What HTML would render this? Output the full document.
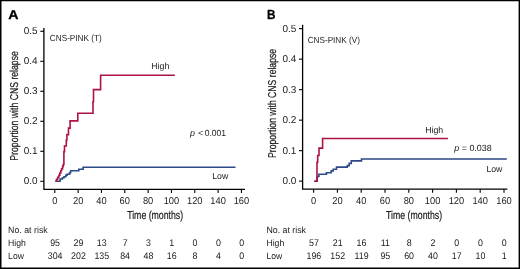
<!DOCTYPE html>
<html><head><meta charset="utf-8"><style>
html,body{margin:0;padding:0;background:#fff;}
body{width:520px;height:269px;overflow:hidden;}
svg{display:block;will-change:transform;text-rendering:geometricPrecision;}
text{font-family:"Liberation Sans",sans-serif;fill:#1a1a1a;}
</style></head><body>
<svg width="520" height="269" viewBox="0 0 520 269">
<rect x="0" y="0" width="520" height="269" fill="#fff"/>
<path d="M0 0 H520 V269 H0 Z M1.5 1.2 V267.6 H518.6 V1.2 Z" fill="#000" fill-rule="evenodd"/>
<text x="0" y="0" font-size="12.9" font-weight="bold" style="fill:#000" stroke="#000" stroke-width="0.3" transform="translate(8.3 19.1) scale(1.1 1)">A</text>
<text x="0" y="0" font-size="13.2" font-weight="bold" style="fill:#000" stroke="#000" stroke-width="0.3" transform="translate(267.1 19.1) scale(0.89 1)">B</text>
<path d="M43.9 28 V189.3 H245" fill="none" stroke="#000" stroke-width="1.3"/>
<line x1="40.3" y1="181.30" x2="43.9" y2="181.30" stroke="#000" stroke-width="1.1"/>
<text x="37.60" y="184.30" font-size="10.0" text-anchor="end">0.0</text>
<line x1="40.3" y1="151.30" x2="43.9" y2="151.30" stroke="#000" stroke-width="1.1"/>
<text x="37.60" y="154.30" font-size="10.0" text-anchor="end">0.1</text>
<line x1="40.3" y1="121.30" x2="43.9" y2="121.30" stroke="#000" stroke-width="1.1"/>
<text x="37.60" y="124.30" font-size="10.0" text-anchor="end">0.2</text>
<line x1="40.3" y1="91.30" x2="43.9" y2="91.30" stroke="#000" stroke-width="1.1"/>
<text x="37.60" y="94.30" font-size="10.0" text-anchor="end">0.3</text>
<line x1="40.3" y1="61.30" x2="43.9" y2="61.30" stroke="#000" stroke-width="1.1"/>
<text x="37.60" y="64.30" font-size="10.0" text-anchor="end">0.4</text>
<line x1="40.3" y1="31.30" x2="43.9" y2="31.30" stroke="#000" stroke-width="1.1"/>
<text x="37.60" y="34.30" font-size="10.0" text-anchor="end">0.5</text>
<line x1="54.80" y1="189.3" x2="54.80" y2="192.9" stroke="#000" stroke-width="1.1"/>
<text transform="translate(54.80 204.20) scale(0.93 1)" font-size="10.0" text-anchor="middle">0</text>
<line x1="78.13" y1="189.3" x2="78.13" y2="192.9" stroke="#000" stroke-width="1.1"/>
<text transform="translate(78.13 204.20) scale(0.93 1)" font-size="10.0" text-anchor="middle">20</text>
<line x1="101.46" y1="189.3" x2="101.46" y2="192.9" stroke="#000" stroke-width="1.1"/>
<text transform="translate(101.46 204.20) scale(0.93 1)" font-size="10.0" text-anchor="middle">40</text>
<line x1="124.79" y1="189.3" x2="124.79" y2="192.9" stroke="#000" stroke-width="1.1"/>
<text transform="translate(124.79 204.20) scale(0.93 1)" font-size="10.0" text-anchor="middle">60</text>
<line x1="148.12" y1="189.3" x2="148.12" y2="192.9" stroke="#000" stroke-width="1.1"/>
<text transform="translate(148.12 204.20) scale(0.93 1)" font-size="10.0" text-anchor="middle">80</text>
<line x1="171.45" y1="189.3" x2="171.45" y2="192.9" stroke="#000" stroke-width="1.1"/>
<text transform="translate(171.45 204.20) scale(0.93 1)" font-size="10.0" text-anchor="middle">100</text>
<line x1="194.78" y1="189.3" x2="194.78" y2="192.9" stroke="#000" stroke-width="1.1"/>
<text transform="translate(194.78 204.20) scale(0.93 1)" font-size="10.0" text-anchor="middle">120</text>
<line x1="218.11" y1="189.3" x2="218.11" y2="192.9" stroke="#000" stroke-width="1.1"/>
<text transform="translate(218.11 204.20) scale(0.93 1)" font-size="10.0" text-anchor="middle">140</text>
<line x1="241.44" y1="189.3" x2="241.44" y2="192.9" stroke="#000" stroke-width="1.1"/>
<text transform="translate(241.44 204.20) scale(0.93 1)" font-size="10.0" text-anchor="middle">160</text>
<path d="M302.6 24.8 V189.2 H507.4" fill="none" stroke="#000" stroke-width="1.3"/>
<line x1="299.0" y1="181.15" x2="302.6" y2="181.15" stroke="#000" stroke-width="1.1"/>
<text x="296.30" y="184.15" font-size="10.0" text-anchor="end">0.0</text>
<line x1="299.0" y1="150.65" x2="302.6" y2="150.65" stroke="#000" stroke-width="1.1"/>
<text x="296.30" y="153.65" font-size="10.0" text-anchor="end">0.1</text>
<line x1="299.0" y1="120.15" x2="302.6" y2="120.15" stroke="#000" stroke-width="1.1"/>
<text x="296.30" y="123.15" font-size="10.0" text-anchor="end">0.2</text>
<line x1="299.0" y1="89.65" x2="302.6" y2="89.65" stroke="#000" stroke-width="1.1"/>
<text x="296.30" y="92.65" font-size="10.0" text-anchor="end">0.3</text>
<line x1="299.0" y1="59.15" x2="302.6" y2="59.15" stroke="#000" stroke-width="1.1"/>
<text x="296.30" y="62.15" font-size="10.0" text-anchor="end">0.4</text>
<line x1="299.0" y1="28.65" x2="302.6" y2="28.65" stroke="#000" stroke-width="1.1"/>
<text x="296.30" y="31.65" font-size="10.0" text-anchor="end">0.5</text>
<line x1="313.60" y1="189.2" x2="313.60" y2="192.79999999999998" stroke="#000" stroke-width="1.1"/>
<text transform="translate(313.60 204.20) scale(0.93 1)" font-size="10.0" text-anchor="middle">0</text>
<line x1="337.40" y1="189.2" x2="337.40" y2="192.79999999999998" stroke="#000" stroke-width="1.1"/>
<text transform="translate(337.40 204.20) scale(0.93 1)" font-size="10.0" text-anchor="middle">20</text>
<line x1="361.20" y1="189.2" x2="361.20" y2="192.79999999999998" stroke="#000" stroke-width="1.1"/>
<text transform="translate(361.20 204.20) scale(0.93 1)" font-size="10.0" text-anchor="middle">40</text>
<line x1="385.00" y1="189.2" x2="385.00" y2="192.79999999999998" stroke="#000" stroke-width="1.1"/>
<text transform="translate(385.00 204.20) scale(0.93 1)" font-size="10.0" text-anchor="middle">60</text>
<line x1="408.80" y1="189.2" x2="408.80" y2="192.79999999999998" stroke="#000" stroke-width="1.1"/>
<text transform="translate(408.80 204.20) scale(0.93 1)" font-size="10.0" text-anchor="middle">80</text>
<line x1="432.60" y1="189.2" x2="432.60" y2="192.79999999999998" stroke="#000" stroke-width="1.1"/>
<text transform="translate(432.60 204.20) scale(0.93 1)" font-size="10.0" text-anchor="middle">100</text>
<line x1="456.40" y1="189.2" x2="456.40" y2="192.79999999999998" stroke="#000" stroke-width="1.1"/>
<text transform="translate(456.40 204.20) scale(0.93 1)" font-size="10.0" text-anchor="middle">120</text>
<line x1="480.20" y1="189.2" x2="480.20" y2="192.79999999999998" stroke="#000" stroke-width="1.1"/>
<text transform="translate(480.20 204.20) scale(0.93 1)" font-size="10.0" text-anchor="middle">140</text>
<line x1="504.00" y1="189.2" x2="504.00" y2="192.79999999999998" stroke="#000" stroke-width="1.1"/>
<text transform="translate(504.00 204.20) scale(0.93 1)" font-size="10.0" text-anchor="middle">160</text>
<path d="M55.50 181.30 L60.10 181.30 L60.10 179.00 L62.40 179.00 L62.40 177.80 L64.00 177.80 L64.00 176.70 L65.90 176.70 L65.90 175.10 L67.10 175.10 L67.10 174.30 L69.50 174.30 L69.50 172.80 L70.60 172.80 L70.60 170.80 L78.80 170.80 L78.80 169.25 L83.10 169.25 L83.10 167.30 L235.50 167.30" fill="none" stroke="#2b4a87" stroke-width="1.6" stroke-linejoin="miter"/>
<path d="M55.30 181.30 L56.50 181.30 L56.50 179.20 L57.70 179.20 L57.70 177.20 L58.90 177.20 L58.90 175.20 L59.80 175.20 L59.80 173.00 L60.80 173.00 L60.80 170.80 L61.60 170.80 L61.60 168.80 L62.60 168.80 L62.60 166.50 L63.20 166.50 L63.20 164.60 L63.90 164.60 L63.90 151.60 L64.50 151.60 L64.50 146.00 L66.30 146.00 L66.30 140.00 L66.90 140.00 L66.90 134.60 L68.50 134.60 L68.50 128.10 L70.10 128.10 L70.10 120.90 L77.80 120.90 L77.80 113.30 L93.00 113.30 L93.00 101.70 L93.50 101.70 L93.50 89.60 L100.60 89.60 L100.60 75.20 L174.80 75.20" fill="none" stroke="#ae1240" stroke-width="1.6" stroke-linejoin="miter"/>
<path d="M314.20 181.20 L317.20 181.20 L317.20 176.50 L318.90 176.50 L318.90 174.20 L326.40 174.20 L326.40 172.70 L331.20 172.70 L331.20 170.90 L333.20 170.90 L333.20 169.20 L336.50 169.20 L336.50 167.10 L347.30 167.10 L347.30 165.60 L349.20 165.60 L349.20 163.40 L351.30 163.40 L351.30 160.90 L361.50 160.90 L361.50 159.00 L506.80 159.00" fill="none" stroke="#2b4a87" stroke-width="1.6" stroke-linejoin="miter"/>
<path d="M314.20 181.20 L317.00 181.20 L317.00 162.20 L317.70 162.20 L317.70 155.50 L319.00 155.50 L319.00 148.10 L322.60 148.10 L322.60 138.45 L447.90 138.45" fill="none" stroke="#ae1240" stroke-width="1.6" stroke-linejoin="miter"/>
<text x="49.80" y="40.90" font-size="8.9" textLength="52" lengthAdjust="spacingAndGlyphs">CNS-PINK (T)</text>
<text x="307.70" y="43.10" font-size="8.9" textLength="52.2" lengthAdjust="spacingAndGlyphs">CNS-PINK (V)</text>
<text transform="translate(17.6 105.9) rotate(-90)" text-anchor="middle" font-size="11.4" stroke="#1a1a1a" stroke-width="0.2" textLength="109.5" lengthAdjust="spacingAndGlyphs">Proportion with CNS relapse</text>
<text transform="translate(276.3 103.4) rotate(-90)" text-anchor="middle" font-size="11.4" stroke="#1a1a1a" stroke-width="0.2" textLength="109" lengthAdjust="spacingAndGlyphs">Proportion with CNS relapse</text>
<text x="151.30" y="69.30" font-size="8.9" textLength="18" lengthAdjust="spacingAndGlyphs">High</text>
<text x="425.20" y="132.90" font-size="8.9" textLength="18" lengthAdjust="spacingAndGlyphs">High</text>
<text x="212.20" y="178.70" font-size="8.9" textLength="16" lengthAdjust="spacingAndGlyphs">Low</text>
<text x="486.40" y="171.80" font-size="8.9" textLength="16" lengthAdjust="spacingAndGlyphs">Low</text>
<text x="189.90" y="135.80" font-size="8.9" font-style="italic">p</text>
<text x="198.00" y="135.80" font-size="8.9">&lt;</text>
<text x="204.70" y="135.80" font-size="8.9" textLength="21.4" lengthAdjust="spacingAndGlyphs">0.001</text>
<text x="454.20" y="150.60" font-size="8.9" textLength="37.6" lengthAdjust="spacingAndGlyphs"><tspan font-style="italic">p</tspan> = 0.038</text>
<text x="155.15" y="219.40" font-size="11.5" text-anchor="middle" textLength="56" lengthAdjust="spacingAndGlyphs" stroke="#1a1a1a" stroke-width="0.2">Time (months)</text>
<text x="414.10" y="219.40" font-size="11.5" text-anchor="middle" textLength="56" lengthAdjust="spacingAndGlyphs" stroke="#1a1a1a" stroke-width="0.2">Time (months)</text>
<text x="8.10" y="233.00" font-size="9.1" textLength="39.6" lengthAdjust="spacingAndGlyphs">No. at risk</text>
<text x="8.10" y="245.90" font-size="9.1" textLength="17.8" lengthAdjust="spacingAndGlyphs">High</text>
<text x="8.10" y="258.50" font-size="9.1" textLength="15.8" lengthAdjust="spacingAndGlyphs">Low</text>
<text transform="translate(55.10 246.10) scale(0.92 1)" font-size="9.6" text-anchor="middle">95</text>
<text transform="translate(55.10 259.10) scale(0.92 1)" font-size="9.6" text-anchor="middle">304</text>
<text transform="translate(78.43 246.10) scale(0.92 1)" font-size="9.6" text-anchor="middle">29</text>
<text transform="translate(78.43 259.10) scale(0.92 1)" font-size="9.6" text-anchor="middle">202</text>
<text transform="translate(101.76 246.10) scale(0.92 1)" font-size="9.6" text-anchor="middle">13</text>
<text transform="translate(101.76 259.10) scale(0.92 1)" font-size="9.6" text-anchor="middle">135</text>
<text transform="translate(125.09 246.10) scale(0.92 1)" font-size="9.6" text-anchor="middle">7</text>
<text transform="translate(125.09 259.10) scale(0.92 1)" font-size="9.6" text-anchor="middle">84</text>
<text transform="translate(148.42 246.10) scale(0.92 1)" font-size="9.6" text-anchor="middle">3</text>
<text transform="translate(148.42 259.10) scale(0.92 1)" font-size="9.6" text-anchor="middle">48</text>
<text transform="translate(171.75 246.10) scale(0.92 1)" font-size="9.6" text-anchor="middle">1</text>
<text transform="translate(171.75 259.10) scale(0.92 1)" font-size="9.6" text-anchor="middle">16</text>
<text transform="translate(195.08 246.10) scale(0.92 1)" font-size="9.6" text-anchor="middle">0</text>
<text transform="translate(195.08 259.10) scale(0.92 1)" font-size="9.6" text-anchor="middle">8</text>
<text transform="translate(218.41 246.10) scale(0.92 1)" font-size="9.6" text-anchor="middle">0</text>
<text transform="translate(218.41 259.10) scale(0.92 1)" font-size="9.6" text-anchor="middle">4</text>
<text transform="translate(241.74 246.10) scale(0.92 1)" font-size="9.6" text-anchor="middle">0</text>
<text transform="translate(241.74 259.10) scale(0.92 1)" font-size="9.6" text-anchor="middle">0</text>
<text x="266.40" y="233.00" font-size="9.1" textLength="39.6" lengthAdjust="spacingAndGlyphs">No. at risk</text>
<text x="266.40" y="245.90" font-size="9.1" textLength="17.8" lengthAdjust="spacingAndGlyphs">High</text>
<text x="266.40" y="258.50" font-size="9.1" textLength="15.8" lengthAdjust="spacingAndGlyphs">Low</text>
<text transform="translate(313.90 246.10) scale(0.92 1)" font-size="9.6" text-anchor="middle">57</text>
<text transform="translate(313.90 259.10) scale(0.92 1)" font-size="9.6" text-anchor="middle">196</text>
<text transform="translate(337.70 246.10) scale(0.92 1)" font-size="9.6" text-anchor="middle">21</text>
<text transform="translate(337.70 259.10) scale(0.92 1)" font-size="9.6" text-anchor="middle">152</text>
<text transform="translate(361.50 246.10) scale(0.92 1)" font-size="9.6" text-anchor="middle">16</text>
<text transform="translate(361.50 259.10) scale(0.92 1)" font-size="9.6" text-anchor="middle">119</text>
<text transform="translate(385.30 246.10) scale(0.92 1)" font-size="9.6" text-anchor="middle">11</text>
<text transform="translate(385.30 259.10) scale(0.92 1)" font-size="9.6" text-anchor="middle">95</text>
<text transform="translate(409.10 246.10) scale(0.92 1)" font-size="9.6" text-anchor="middle">8</text>
<text transform="translate(409.10 259.10) scale(0.92 1)" font-size="9.6" text-anchor="middle">60</text>
<text transform="translate(432.90 246.10) scale(0.92 1)" font-size="9.6" text-anchor="middle">2</text>
<text transform="translate(432.90 259.10) scale(0.92 1)" font-size="9.6" text-anchor="middle">40</text>
<text transform="translate(456.70 246.10) scale(0.92 1)" font-size="9.6" text-anchor="middle">0</text>
<text transform="translate(456.70 259.10) scale(0.92 1)" font-size="9.6" text-anchor="middle">17</text>
<text transform="translate(480.50 246.10) scale(0.92 1)" font-size="9.6" text-anchor="middle">0</text>
<text transform="translate(480.50 259.10) scale(0.92 1)" font-size="9.6" text-anchor="middle">10</text>
<text transform="translate(504.30 246.10) scale(0.92 1)" font-size="9.6" text-anchor="middle">0</text>
<text transform="translate(504.30 259.10) scale(0.92 1)" font-size="9.6" text-anchor="middle">1</text>
</svg>
</body></html>
